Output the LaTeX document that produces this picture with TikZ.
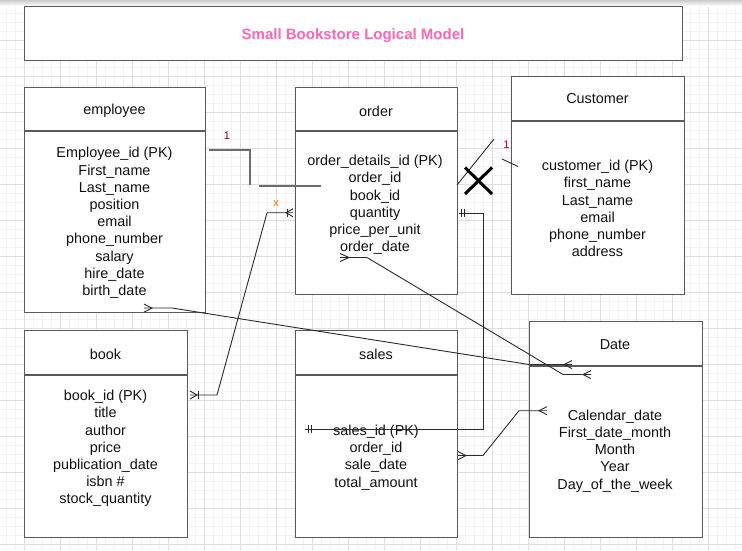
\documentclass[tikz,border=0pt]{standalone}
\usepackage{fontspec}
\setmainfont{Liberation Sans}
\begin{document}
\begin{tikzpicture}[x=1pt,y=-1pt,
  ent/.style={draw=boxgray, line width=1.3pt, fill=white, inner sep=0pt, anchor=north west},
  divider/.style={draw=boxgray, line width=1.3pt},
  txt/.style={font=\fontsize{14.4}{17.2}\selectfont, text=txtcol, align=center, inner sep=0pt},
  conn/.style={draw=conncol, line width=0.9pt},
  lbl/.style={font=\fontsize{11}{12}\selectfont, inner sep=0pt}
]
\definecolor{boxgray}{HTML}{5A5A5A}
\definecolor{txtcol}{HTML}{111111}
\definecolor{conncol}{HTML}{2A2A2A}
\definecolor{pinkt}{HTML}{FF66B3}
\definecolor{gmajor}{HTML}{DEDEDE}
\definecolor{gminor}{HTML}{F3F3F3}
\useasboundingbox (0,0) rectangle (742,550);
\fill[white] (0,0) rectangle (742,550);
% grid
\foreach \i in {0,...,83} {\draw[gminor, line width=0.7pt] (\i*9-3,0) -- (\i*9-3,550);}
\foreach \i in {0,...,62} {\draw[gminor, line width=0.7pt] (0,\i*9-5) -- (742,\i*9-5);}
\foreach \i in {0,...,20} {\draw[gmajor, line width=0.8pt] (\i*36+24,0) -- (\i*36+24,550);}
\foreach \i in {0,...,15} {\draw[gmajor, line width=0.8pt] (0,\i*36+4) -- (742,\i*36+4);}
\shade[top color=gray!40, bottom color=white] (0,0) rectangle (742,6);

% title
\node[ent, minimum width=658pt, minimum height=54pt] (title) at (24,6) {};
\node[font=\fontsize{15}{18}\selectfont\bfseries, text=pinkt, inner sep=0pt] (titletext) at (353,35.5) {Small Bookstore Logical Model};

% employee
\node[ent, minimum width=181pt, minimum height=225pt] (emp) at (24,87) {};
\draw[divider] (24,131) -- (205,131);
\node[txt] (emph) at (114.5,111) {employee};
\node[txt] (empb) at (114.5,223) {Employee\_id (PK)\\First\_name\\Last\_name\\position\\email\\phone\_number\\salary\\hire\_date\\birth\_date};

% order
\node[ent, minimum width=162pt, minimum height=207pt] (ord) at (295,87) {};
\draw[divider] (295,131) -- (457,131);
\node[txt] (ordh) at (376,111) {order};
\node[txt] (ordb) at (375,205) {order\_details\_id (PK)\\order\_id\\book\_id\\quantity\\price\_per\_unit\\order\_date};

% customer
\node[ent, minimum width=173pt, minimum height=218pt] (cus) at (511,76) {};
\draw[divider] (511,121) -- (684,121);
\node[txt] (cush) at (597.5,99) {Customer};
\node[txt] (cusb) at (597.5,208.5) {customer\_id (PK)\\first\_name\\Last\_name\\email\\phone\_number\\address};

% book
\node[ent, minimum width=163pt, minimum height=207pt] (book) at (24,330) {};
\draw[divider] (24,375) -- (187,375);
\node[txt] (bookh) at (105.5,354) {book};
\node[txt] (bookb) at (105.5,448.5) {book\_id (PK)\\title\\author\\price\\publication\_date\\isbn \#\\stock\_quantity};

% sales
\node[ent, minimum width=162pt, minimum height=207pt] (sales) at (295,330) {};
\draw[divider] (295,375) -- (457,375);
\node[txt] (salesh) at (376,354) {sales};
\node[txt] (salesb) at (376,457.5) {sales\_id (PK)\\order\_id\\sale\_date\\total\_amount};

% date
\node[ent, minimum width=173pt, minimum height=216pt] (date) at (529,321) {};
\draw[divider] (529,366) -- (702,366);
\node[txt] (dateh) at (615,345) {Date};
\node[txt] (dateb) at (615,451) {Calendar\_date\\First\_date\_month\\Month\\Year\\Day\_of\_the\_week};

% ---------- connectors ----------
% employee -> order (broken)
\coordinate (c1a) at (209,150); \coordinate (c1b) at (250,150); \coordinate (c1c) at (250,185);
\coordinate (c1d) at (259,186); \coordinate (c1e) at (321,186);
\draw[conn, draw=gray!85!black, line width=1.4pt] (c1a) -- (c1b) -- (c1c);
\draw[conn, draw=gray!85!black, line width=1.4pt] (c1d) -- (c1e);
\node[lbl, text=red!50!black] (l1) at (227,136) {1};

% order -> customer
\coordinate (c2a) at (457,185); \coordinate (c2b) at (494,139);
\coordinate (c2c) at (502,159); \coordinate (c2d) at (518,166.5);
\draw[conn] (c2a) -- (c2b);
\draw[conn] (c2c) -- (c2d);
\node[lbl, text=red!80!black] (l2) at (506.5,145) {1};
\coordinate (x1) at (465,167.5); \coordinate (x2) at (492,194);
\coordinate (x3) at (465,194); \coordinate (x4) at (492,167.5);
\draw[black, line width=3pt] (x1) -- (x2);
\draw[black, line width=3pt] (x3) -- (x4);

% book -> order
\coordinate (c3a) at (190,395); \coordinate (c3b) at (217,395);
\coordinate (c3c) at (267,212.7); \coordinate (c3d) at (293,212.7);
\draw[conn] (c3a) -- (c3b) -- (c3c) -- (c3d);
\draw[conn] (190,391) -- (197,395) -- (190,399);
\draw[conn] (198,391) -- (198,399);
\draw[conn] (293,208.7) -- (286,212.7) -- (293,216.7);
\draw[conn] (287.5,208.7) -- (287.5,216.7);
\node[lbl, text=orange!80!red] (l3) at (276,204) {x};

% order -> sales
\coordinate (c4a) at (459,213); \coordinate (c4b) at (483,213);
\coordinate (c4c) at (483,429); \coordinate (c4d) at (305,429);
\draw[conn] (c4a) -- (c4b) -- (c4c) -- (c4d);
\draw[conn] (461,209) -- (461,217);
\draw[conn] (464,209) -- (464,217);
\draw[conn] (308,425) -- (308,433);
\draw[conn] (311,425) -- (311,433);

% order_date -> date
\coordinate (c5a) at (340,257.5); \coordinate (c5b) at (367,257.5);
\coordinate (c5c) at (563,374.5); \coordinate (c5d) at (591,374.5);
\draw[conn] (c5a) -- (c5b) -- (c5c) -- (c5d);
\draw[conn] (340,253.5) -- (349,257.5) -- (340,261.5);
\draw[conn] (591,370.5) -- (583,374.5) -- (591,378.5);

% birth_date -> date
\coordinate (c6a) at (144,308); \coordinate (c6b) at (172,308);
\coordinate (c6c) at (529,364.5); \coordinate (c6d) at (572,364.5);
\draw[conn] (c6a) -- (c6b) -- (c6c) -- (c6d);
\draw[conn] (144,304) -- (152,308) -- (144,312);
\draw[conn] (572,360.5) -- (564,364.5) -- (572,368.5);

% sales -> date
\coordinate (c7a) at (458,455.5); \coordinate (c7b) at (483,455.5);
\coordinate (c7c) at (519,410.7); \coordinate (c7d) at (547,410.7);
\draw[conn] (c7a) -- (c7b) -- (c7c) -- (c7d);
\draw[conn] (458,451.5) -- (466,455.5) -- (458,459.5);
\draw[conn] (547,406.7) -- (539,410.7) -- (547,414.7);
\end{tikzpicture}
\end{document}
